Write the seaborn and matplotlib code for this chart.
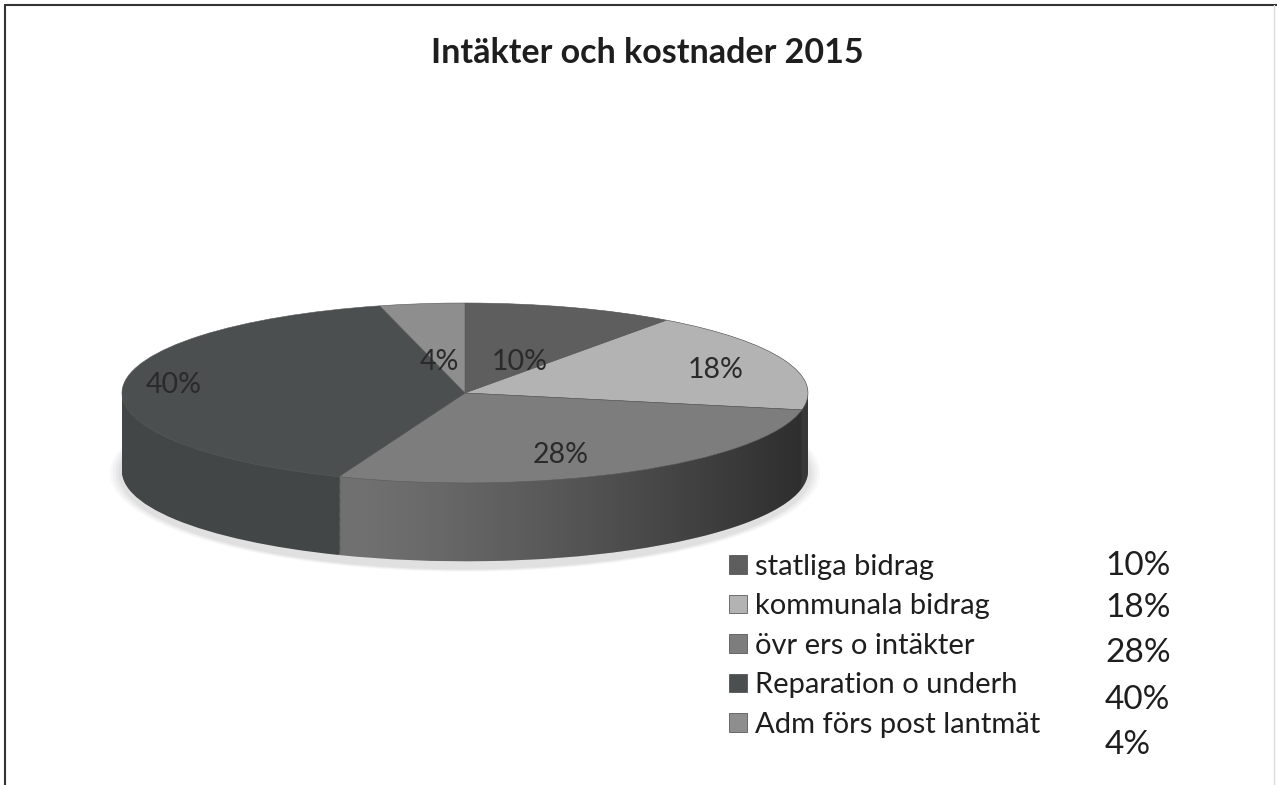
import numpy as np
import matplotlib.pyplot as plt
import matplotlib.patches as mpatches
from matplotlib.lines import Line2D
import seaborn as sns

sns.set_theme(style="white")
plt.rcParams['font.family'] = ['Lato', 'DejaVu Sans']

# data
titel = 'Intäkter och kostnader 2015'
kategorier = ['statliga bidrag', 'kommunala bidrag', 'övr ers o intäkter',
              'Reparation o underh', 'Adm förs post lantmät']
andelar = [10, 18, 28, 40, 4]

# stil
farg_topp = ['#5e5e5e', '#b3b3b3', '#7d7d7d', '#4b4f4f', '#8e8e8e']
farg_sida = ['#3a3a3a', '#8a8a8a', '#707070', '#424646', '#6a6a6a']
etikett_pos = [(0.16, 0.34), (0.73, 0.26), (0.28, -0.69), (-0.85, 0.09), (-0.075, 0.34)]
procent_y = [566, 608, 653, 700, 745]
textfarg = '#1e1e1e'

W, H = 1277, 785
fig = plt.figure(figsize=(W / 100, H / 100), dpi=100)
ax = fig.add_axes([0, 0, 1, 1])

# tårtans geometri i pixlar: centrum (465, 393), radier 343 x 90
cx, cy, rx, ry = 465, 393, 343, 90
djup = 0.87

# mjuk skugga
for i, a in enumerate([0.05, 0.05, 0.06, 0.07]):
    s = 1.035 - i * 0.008
    ax.add_patch(mpatches.Ellipse((0, -djup - 0.02), 2 * s, 2 * s + 0.12, color='#777777',
                                  alpha=a, lw=0, zorder=0.5))

# sidan: staplade tårtor
lager = 70
for k in range(lager, 0, -1):
    ax.pie(andelar, colors=farg_sida, startangle=90, counterclock=False,
           center=(0, -djup * k / lager), radius=1, wedgeprops=dict(linewidth=0, zorder=1))

# mörkare mot höger på sidan
th = np.linspace(0, np.pi, 200)
kant = np.r_[np.c_[np.cos(th), np.sin(th)], np.c_[np.cos(th + np.pi), np.sin(th + np.pi) - djup]]
klipp = mpatches.Polygon(kant, closed=True, transform=ax.transData, fc='none', ec='none')
ax.add_patch(klipp)
xx = np.linspace(-1, 1, 400)
alfa = np.clip((xx + 0.3) / 1.3, 0, 1) ** 1.2 * 0.6
grad = np.zeros((1, xx.size, 4))
grad[..., 3] = alfa
bild = ax.imshow(grad, extent=(-1, 1, -1 - djup, 1), aspect='auto', zorder=1.5,
                 interpolation='bilinear')
bild.set_clip_path(klipp)

# toppen
wedges, _ = ax.pie(andelar, colors=farg_topp, startangle=90, counterclock=False,
                   radius=1, wedgeprops=dict(linewidth=0.4, edgecolor='#5a5a5a', zorder=2))

for v, (px, py) in zip(andelar, etikett_pos):
    ax.text(px, py, f'{v}%', ha='center', va='center', fontsize=20.5,
            color='#2a2a2a', zorder=4)

# axlar så att enhetscirkeln blir en ellips på 343 x 90 px
ax.set_aspect('auto')
ax.set_xlim(-cx / rx, (W - cx) / rx)
ax.set_ylim(-(H - cy) / ry, cy / ry)
ax.axis('off')

# legend
leg = ax.legend(wedges, kategorier, loc='upper left',
                bbox_to_anchor=(729 / W, 1 - 554 / H), bbox_transform=fig.transFigure,
                frameon=False, fontsize=21, handlelength=0.6, handleheight=0.6,
                handletextpad=0.3, labelspacing=0.46, borderpad=0, borderaxespad=0)
for t in leg.get_texts():
    t.set_color(textfarg)
for h in leg.legend_handles:
    h.set_edgecolor('#444444')
    h.set_linewidth(0.5)

for v, y in zip(andelar, procent_y):
    fig.text(1105 / W, 1 - y / H, f'{v}%', ha='left', va='center', fontsize=24, color=textfarg)

fig.text(647 / W, 1 - 53 / H, titel, ha='center', va='center', fontsize=24.5,
         fontweight='bold', color=textfarg)

# ram
fig.add_artist(Line2D([5 / W, 1], [1 - 5 / H, 1 - 5 / H], transform=fig.transFigure,
                      color='#333333', lw=1.5))
fig.add_artist(Line2D([5 / W, 5 / W], [0, 1 - 5 / H], transform=fig.transFigure,
                      color='#333333', lw=1.5))
fig.add_artist(Line2D([1274 / W, 1274 / W], [0, 1 - 5 / H], transform=fig.transFigure,
                      color='#dddddd', lw=1))

fig.savefig('out.png', dpi=100, facecolor='white')
